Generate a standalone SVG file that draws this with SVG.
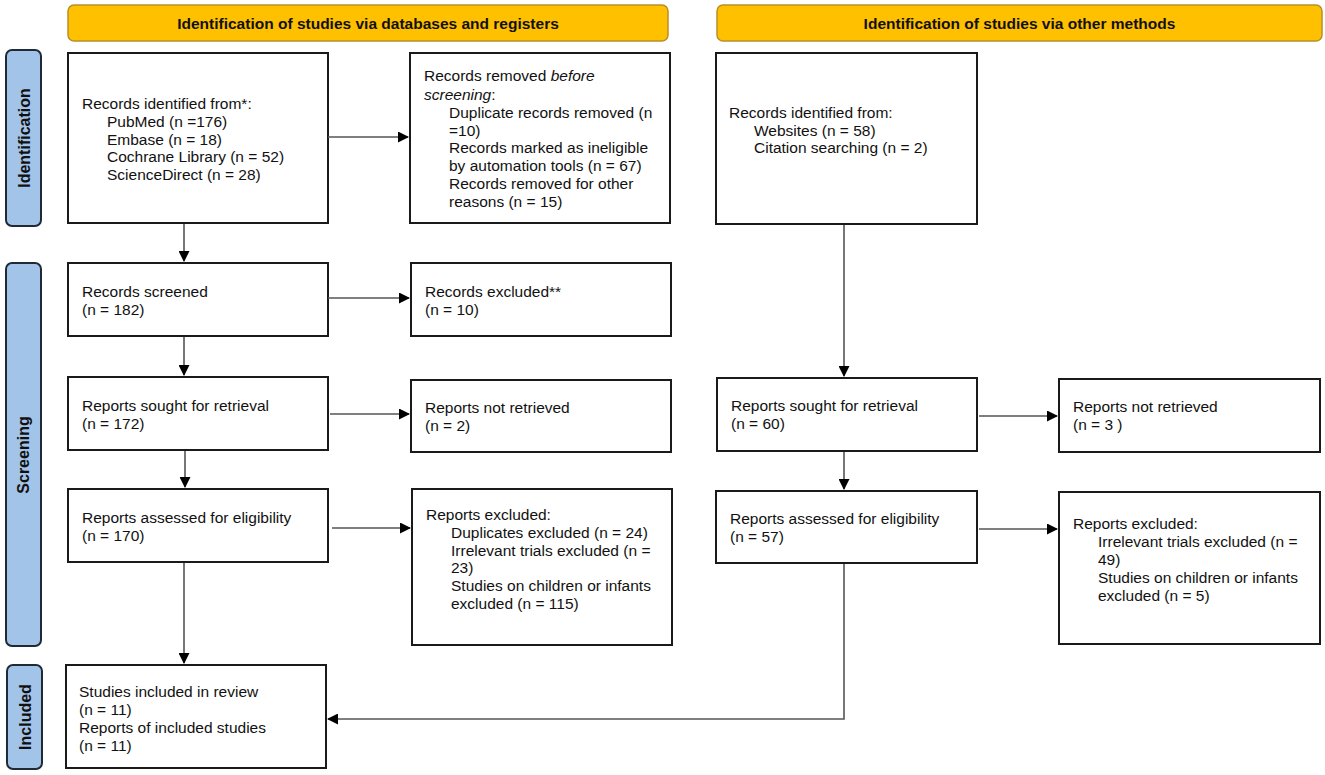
<svg xmlns="http://www.w3.org/2000/svg" width="1325" height="775" viewBox="0 0 1325 775">
<defs>
<style>
.box{fill:#fff;stroke:#1a1a1a;stroke-width:2}
.ban{fill:#FFC000;stroke:#B8902A;stroke-width:1.5}
.side{fill:#A3C4E9;stroke:#1f2a36;stroke-width:2}
.t{font-family:"Liberation Sans",Arial,sans-serif;font-size:15.5px;fill:#111}
.bt{font-family:"Liberation Sans",Arial,sans-serif;font-size:15.5px;font-weight:bold;fill:#111;text-anchor:middle}
.st{font-family:"Liberation Sans",Arial,sans-serif;font-size:16px;font-weight:bold;fill:#111;text-anchor:middle}
.c{fill:none;stroke:#555;stroke-width:1.6}
</style>
<marker id="ah" markerUnits="userSpaceOnUse" markerWidth="11" markerHeight="11" viewBox="0 0 11 11" refX="10" refY="5.5" orient="auto">
<path d="M0,0 L11,5.5 L0,11 Z" fill="#000"/>
</marker>
</defs>

<g id="banner-left"><rect class="ban" x="68" y="5" width="600" height="36" rx="6"/><text class="bt" x="368" y="29">Identification of studies via databases and registers</text></g>
<g id="banner-right"><rect class="ban" x="717" y="5" width="605" height="36" rx="6"/><text class="bt" x="1019.5" y="29">Identification of studies via other methods</text></g>

<g id="side-identification"><rect class="side" x="6" y="50" width="35" height="176" rx="6"/><text class="st" transform="translate(29.5,138) rotate(-90)">Identification</text></g>
<g id="side-screening"><rect class="side" x="6" y="263" width="35" height="383" rx="6"/><text class="st" transform="translate(29,455) rotate(-90)">Screening</text></g>
<g id="side-included"><rect class="side" x="7" y="665" width="35" height="104" rx="6"/><text class="st" transform="translate(30.5,717) rotate(-90)">Included</text></g>

<g id="n-identified"><rect class="box" x="68" y="53" width="260" height="170"/>
<text class="t" x="82" y="109">Records identified from*:</text>
<text class="t" x="107" y="127">PubMed (n =176)</text>
<text class="t" x="107" y="145">Embase (n = 18)</text>
<text class="t" x="107" y="162">Cochrane Library (n = 52)</text>
<text class="t" x="107" y="180">ScienceDirect (n = 28)</text></g>

<g id="n-removed"><rect class="box" x="410" y="53" width="260" height="170"/>
<text class="t" x="424" y="81">Records removed <tspan font-style="italic">before</tspan></text>
<text class="t" x="424" y="100"><tspan font-style="italic">screening</tspan>:</text>
<text class="t" x="449" y="118">Duplicate records removed (n</text>
<text class="t" x="449" y="136">=10)</text>
<text class="t" x="449" y="153">Records marked as ineligible</text>
<text class="t" x="449" y="171">by automation tools (n = 67)</text>
<text class="t" x="449" y="189">Records removed for other</text>
<text class="t" x="449" y="207">reasons (n = 15)</text></g>

<g id="n-other"><rect class="box" x="716" y="53" width="261" height="171"/>
<text class="t" x="729" y="118">Records identified from:</text>
<text class="t" x="754" y="136">Websites (n = 58)</text>
<text class="t" x="754" y="153">Citation searching (n = 2)</text></g>

<g id="n-screened"><rect class="box" x="68" y="263" width="260" height="73"/>
<text class="t" x="82" y="297">Records screened</text>
<text class="t" x="82" y="315">(n = 182)</text></g>

<g id="n-excluded"><rect class="box" x="411" y="263" width="260" height="73"/>
<text class="t" x="425" y="297">Records excluded**</text>
<text class="t" x="425" y="315">(n = 10)</text></g>

<g id="n-sought"><rect class="box" x="68" y="377" width="260" height="73"/>
<text class="t" x="82" y="411">Reports sought for retrieval</text>
<text class="t" x="82" y="429">(n = 172)</text></g>

<g id="n-notret"><rect class="box" x="411" y="380" width="260" height="72"/>
<text class="t" x="425" y="413">Reports not retrieved</text>
<text class="t" x="425" y="431">(n = 2)</text></g>

<g id="n-assessed"><rect class="box" x="68" y="489" width="260" height="73"/>
<text class="t" x="82" y="523">Reports assessed for eligibility</text>
<text class="t" x="82" y="541">(n = 170)</text></g>

<g id="n-repexcl"><rect class="box" x="412" y="489" width="260" height="156"/>
<text class="t" x="426" y="520">Reports excluded:</text>
<text class="t" x="451" y="538">Duplicates excluded (n = 24)</text>
<text class="t" x="451" y="556">Irrelevant trials excluded (n =</text>
<text class="t" x="451" y="573">23)</text>
<text class="t" x="451" y="591">Studies on children or infants</text>
<text class="t" x="451" y="609">excluded (n = 115)</text></g>

<g id="n-r-sought"><rect class="box" x="717" y="378" width="260" height="73"/>
<text class="t" x="731" y="411">Reports sought for retrieval</text>
<text class="t" x="731" y="429">(n = 60)</text></g>

<g id="n-r-notret"><rect class="box" x="1059" y="379" width="261" height="73"/>
<text class="t" x="1073" y="412">Reports not retrieved</text>
<text class="t" x="1073" y="430">(n = 3 )</text></g>

<g id="n-r-assessed"><rect class="box" x="716" y="491" width="261" height="72"/>
<text class="t" x="730" y="524">Reports assessed for eligibility</text>
<text class="t" x="730" y="542">(n = 57)</text></g>

<g id="n-r-excl"><rect class="box" x="1059" y="492" width="261" height="152"/>
<text class="t" x="1073" y="529">Reports excluded:</text>
<text class="t" x="1098" y="547">Irrelevant trials excluded (n =</text>
<text class="t" x="1098" y="565">49)</text>
<text class="t" x="1098" y="583">Studies on children or infants</text>
<text class="t" x="1098" y="601">excluded (n = 5)</text></g>

<g id="n-included"><rect class="box" x="66" y="665" width="260" height="103"/>
<text class="t" x="79" y="697">Studies included in review</text>
<text class="t" x="79" y="715">(n = 11)</text>
<text class="t" x="79" y="733">Reports of included studies</text>
<text class="t" x="79" y="751">(n = 11)</text></g>

<g id="connectors">
<path class="c" d="M328,137 H408" marker-end="url(#ah)"/>
<path class="c" d="M184,224 V261" marker-end="url(#ah)"/>
<path class="c" d="M328,298 H409" marker-end="url(#ah)"/>
<path class="c" d="M184,337 V375" marker-end="url(#ah)"/>
<path class="c" d="M330,414 H409" marker-end="url(#ah)"/>
<path class="c" d="M185,451 V487" marker-end="url(#ah)"/>
<path class="c" d="M332,528 H410" marker-end="url(#ah)"/>
<path class="c" d="M184,563 V663" marker-end="url(#ah)"/>
<path class="c" d="M844,225 V376" marker-end="url(#ah)"/>
<path class="c" d="M979,416 H1057" marker-end="url(#ah)"/>
<path class="c" d="M844,452 V489" marker-end="url(#ah)"/>
<path class="c" d="M979,529 H1057" marker-end="url(#ah)"/>
<path class="c" d="M844,564 V719 H328" marker-end="url(#ah)"/>
</g>
</svg>
